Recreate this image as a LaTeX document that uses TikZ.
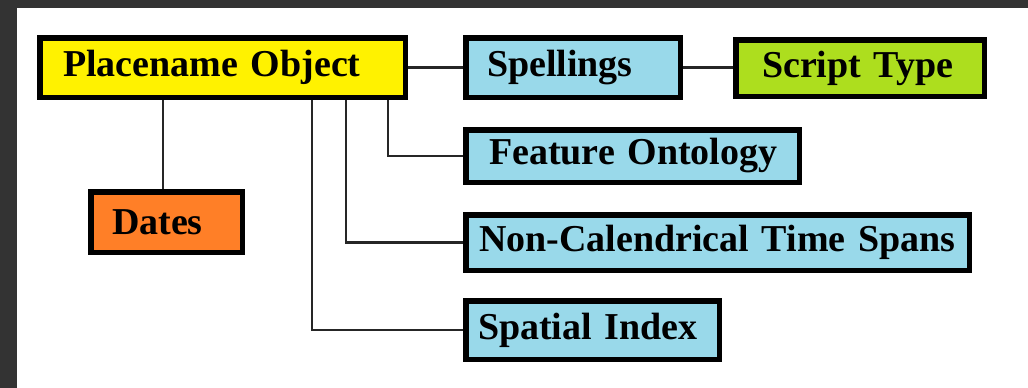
\documentclass[tikz,border=0pt]{standalone}
\usepackage{fontspec}
\setmainfont{Liberation Serif}

\definecolor{framegray}{HTML}{333333}
\definecolor{linkgray}{HTML}{262626}
\definecolor{placeyellow}{HTML}{FFF200}
\definecolor{partblue}{HTML}{99D9EA}
\definecolor{scriptgreen}{HTML}{ADDE1E}
\definecolor{datesorange}{HTML}{FF7F27}

\begin{document}
\begin{tikzpicture}[x=1pt,y=-1pt,
	box/.style={draw=black, line width=5.5pt, inner ysep=0pt, align=left,
		font=\bfseries\fontsize{38}{40}\selectfont},
	link/.style={draw=linkgray, line width=2.5pt}]

	% page and dark frame
	\fill[framegray] (0,0) rectangle (1028,388);
	\fill[white] (17,8) rectangle (1028,388);
	\useasboundingbox (0,0) rectangle (1028,388);

	% boxes
	\node[box, fill=placeyellow, minimum height=59.5pt, text width=319pt, inner xsep=23.25pt]
		(place) at (222.5,67.5) {\mbox{Placename Object}};
	\node[box, fill=partblue, minimum height=59.5pt, text width=172pt, inner xsep=21.25pt]
		(spell) at (573,67.5) {\mbox{Spellings}};
	\node[box, fill=scriptgreen, minimum height=56.5pt, text width=196pt, inner xsep=26.25pt]
		(script) at (860,68) {\mbox{Script Type}};
	\node[box, fill=partblue, minimum height=52.5pt, text width=287pt, inner xsep=23.25pt]
		(feature) at (632.5,156) {\mbox{Feature Ontology}};
	\node[box, fill=datesorange, minimum height=60.5pt, text width=109pt, inner xsep=21.25pt]
		(dates) at (166.5,222) {\mbox{Dates}};
	\node[box, fill=partblue, minimum height=55.5pt, text width=477pt, inner xsep=13.25pt]
		(noncal) at (717.5,242.5) {\mbox{Non-Calendrical Time Spans}};
	\node[box, fill=partblue, minimum height=58.5pt, text width=229pt, inner xsep=12.25pt]
		(spatial) at (592.5,330) {\mbox{Spatial Index}};

	% links
	\draw[link] (place.east) -- (spell.west);
	\draw[link] (spell.east) -- (spell.east -| script.west);
	\draw[link] ([xshift=-3.5pt]place.south -| dates.north) -- ([xshift=-3.5pt]dates.north);
	\draw[link] ([xshift=165.5pt]place.south) |- (feature.west);
	\draw[link] ([xshift=123.5pt]place.south) |- (noncal.west);
	\draw[link] ([xshift=89.5pt]place.south) |- (spatial.west);

\end{tikzpicture}
\end{document}
